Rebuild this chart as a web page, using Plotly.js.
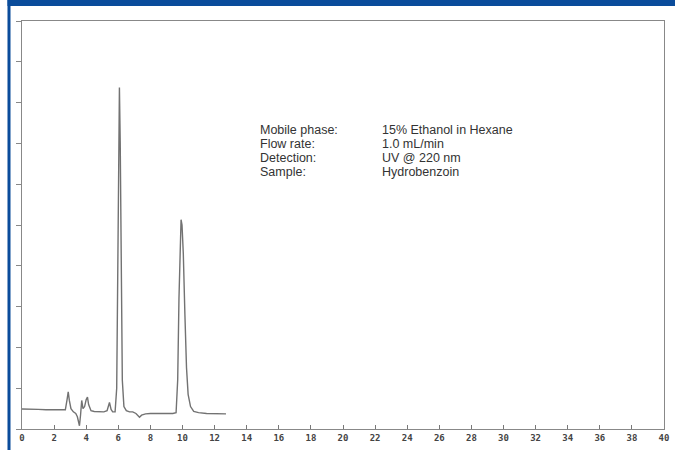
<!DOCTYPE html>
<html>
<head>
<meta charset="utf-8">
<script src="https://cdn.plot.ly/plotly-3.0.1.min.js"></script>
<style>
html,body{margin:0;padding:0;background:#fff;}
#chart{width:675px;height:450px;}
</style>
</head>
<body>
<div id="chart"></div>
<script>
// Retention time (min)
const timeMin = [0, 0.5, 1.0, 1.5, 2.0, 2.5, 2.7, 2.8, 2.88, 2.95, 3.05, 3.2, 3.35, 3.45, 3.52, 3.58, 3.65, 3.72, 3.8, 3.9, 4.0, 4.08, 4.15, 4.3, 4.5, 4.8, 5.1, 5.3, 5.45, 5.55, 5.65, 5.8, 5.9, 5.97, 6.02, 6.07, 6.12, 6.18, 6.25, 6.35, 6.5, 6.7, 6.9, 7.1, 7.25, 7.32, 7.45, 7.7, 8.0, 8.5, 9.0, 9.4, 9.6, 9.7, 9.78, 9.85, 9.91, 9.97, 10.05, 10.15, 10.25, 10.35, 10.5, 10.7, 11.0, 11.5, 12.0, 12.71];
// Detector response (arbitrary units)
const signal = [0.49, 0.49, 0.48, 0.47, 0.47, 0.46, 0.47, 0.70, 0.91, 0.70, 0.50, 0.42, 0.38, 0.30, 0.15, 0.08, 0.35, 0.70, 0.50, 0.55, 0.72, 0.78, 0.60, 0.45, 0.43, 0.42, 0.42, 0.45, 0.65, 0.48, 0.42, 0.42, 1.0, 4.0, 7.0, 8.37, 7.0, 3.5, 1.2, 0.55, 0.45, 0.42, 0.42, 0.38, 0.30, 0.29, 0.34, 0.37, 0.38, 0.38, 0.38, 0.38, 0.40, 1.2, 3.2, 4.7, 5.13, 5.0, 4.3, 2.8, 1.5, 0.85, 0.55, 0.43, 0.40, 0.38, 0.37, 0.37];
const xTickVals = [0, 2, 4, 6, 8, 10, 12, 14, 16, 18, 20, 22, 24, 26, 28, 30, 32, 34, 36, 38, 40];
const infoLabels = ["Mobile phase:", "Flow rate:", "Detection:", "Sample:"];
const infoValues = ["15% Ethanol in Hexane", "1.0 mL/min", "UV @ 220 nm", "Hydrobenzoin"];

const blue = "#0a4c9b";
const rowY = [0.733, 0.699, 0.664, 0.630];
const infoFont = {family: "Liberation Sans, Arial, sans-serif", size: 12.5, color: "#333"};
const annotations = [];
infoLabels.forEach((t, i) => {
  annotations.push({text: t, xref: "paper", yref: "paper", x: 0.368, y: rowY[i], xanchor: "left", yanchor: "middle", showarrow: false, font: infoFont});
  annotations.push({text: infoValues[i], xref: "paper", yref: "paper", x: 0.558, y: rowY[i], xanchor: "left", yanchor: "middle", showarrow: false, font: infoFont});
});

const trace = {
  x: timeMin, y: signal, type: "scatter", mode: "lines",
  line: {color: "#727272", width: 1.4}, hoverinfo: "skip"
};

const layout = {
  width: 675, height: 450,
  margin: {l: 21.5, r: 11, t: 21, b: 21, pad: 0},
  paper_bgcolor: "#ffffff", plot_bgcolor: "#ffffff",
  showlegend: false,
  xaxis: {
    range: [0, 40], tickvals: xTickVals, ticktext: xTickVals.map(String),
    ticks: "inside", ticklen: 4, tickcolor: "#777", tickwidth: 1,
    showline: true, linecolor: "#888", linewidth: 1, mirror: true,
    showgrid: false, zeroline: false,
    tickfont: {family: "DejaVu Sans Mono, monospace", size: 9, color: "#444", weight: "bold"}
  },
  yaxis: {
    range: [0, 10], dtick: 1, tick0: 0,
    ticks: "outside", ticklen: 5, tickcolor: "#888", tickwidth: 1,
    showticklabels: false,
    showline: true, linecolor: "#888", linewidth: 1, mirror: true,
    showgrid: false, zeroline: false
  },
  shapes: [
    {type: "rect", xref: "paper", yref: "paper", x0: -0.0226, x1: -0.0179, y0: -0.06, y1: 1.06, fillcolor: blue, line: {width: 0}, layer: "above"},
    {type: "rect", xref: "paper", yref: "paper", x0: -0.0226, x1: 1.02, y0: 1.0368, y1: 1.06, fillcolor: blue, line: {width: 0}, layer: "above"}
  ],
  annotations: annotations
};

Plotly.newPlot("chart", [trace], layout, {staticPlot: true, displayModeBar: false});
</script>
</body>
</html>
